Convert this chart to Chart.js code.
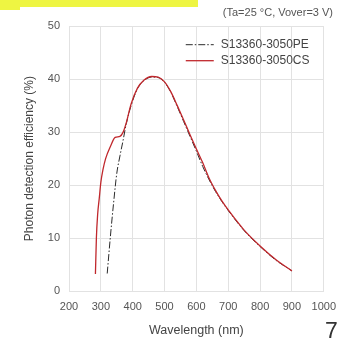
<!DOCTYPE html>
<html>
<head>
<meta charset="utf-8">
<script src="https://cdn.jsdelivr.net/npm/chart.js@4.4.1/dist/chart.umd.min.js"></script>
<style>
  html, body { margin: 0; padding: 0; background: #fff; }
  #wrap { position: relative; width: 345px; height: 338px; overflow: hidden; }
  #grafico { position: absolute; left: 0; top: 0; }
  .marca1 { position: absolute; left: 0; top: 0; width: 198px; height: 7px; background: #eef542; }
  .marca2 { position: absolute; left: 0; top: 0; width: 20px; height: 10px; background: #eef542; }
  #pagina { position: absolute; left: 325px; top: 318px; font: 23px "Liberation Sans", Arial, sans-serif; color: #333; }
</style>
</head>
<body>
<div id="wrap">
  <div class="marca1"></div>
  <div class="marca2"></div>
  <canvas id="grafico" width="345" height="338"></canvas>
  <div id="pagina">7</div>
</div>
<script>
// series names
var nomes = ["S13360-3050PE", "S13360-3050CS"];

// S13360-3050PE (dash-dot black)
var ondaPE = [320, 330, 340, 350, 360, 370, 380, 395, 415, 435, 460, 480, 500, 520, 540, 560, 580, 600, 620, 640, 660, 680, 700, 750, 800, 850, 900];
var pdePE  = [3.3, 10.3, 16.6, 22.2, 25.5, 28.5, 31.6, 35.0, 38.2, 39.7, 40.4, 40.3, 39.4, 37.5, 34.8, 32.0, 29.2, 26.4, 23.5, 21.0, 18.8, 16.9, 15.2, 11.4, 8.4, 5.8, 3.8];

// S13360-3050CS (red)
var ondaCS = [283, 286, 290, 295, 300, 307, 315, 330, 345, 360, 370, 380, 395, 415, 435, 460, 480, 500, 520, 540, 560, 580, 600, 620, 640, 660, 680, 700, 750, 800, 850, 900];
var pdeCS  = [3.2, 10.0, 14.5, 17.5, 20.5, 23.0, 25.0, 27.3, 29.0, 29.2, 30.0, 31.8, 35.3, 38.3, 39.8, 40.5, 40.4, 39.5, 37.6, 35.0, 32.3, 29.5, 26.8, 24.2, 21.3, 19.0, 17.0, 15.3, 11.5, 8.5, 5.9, 3.8];

// axes
var xMin = 200, xMax = 1000, xPasso = 100;
var yMin = 0, yMax = 50, yPasso = 10;

var notaTitulo = "(Ta=25 °C, Vover=3 V)";
var tituloX = "Wavelength (nm)";
var tituloY = "Photon detection efficiency (%)";

function pontos(xs, ys) {
    var p = [];
    for (var i = 0; i < xs.length; i++) {
        p.push({ x: xs[i], y: ys[i] });
    }
    return p;
}

var fonte = "'Liberation Sans', Arial, sans-serif";
var cinza = "#e2e2e2";

// legenda desenhada dentro da area do grafico (canto superior direito)
var legendaInterna = {
    id: 'legendaInterna',
    afterDraw: function (chart) {
        var ctx = chart.ctx;
        var area = chart.chartArea;
        var x0 = area.right - 138;
        var y0 = area.top + 18.5;
        ctx.save();
        ctx.font = "12px " + fonte;
        ctx.textBaseline = 'middle';
        chart.data.datasets.forEach(function (ds, i) {
            var y = y0 + i * 16;
            ctx.beginPath();
            ctx.strokeStyle = ds.borderColor;
            ctx.lineWidth = ds.borderWidth;
            ctx.setLineDash(ds.borderDash || []);
            ctx.moveTo(x0, y);
            ctx.lineTo(x0 + 28, y);
            ctx.stroke();
            ctx.setLineDash([]);
            ctx.fillStyle = "#444";
            ctx.fillText(ds.label, x0 + 35, y);
        });
        ctx.restore();
    }
};

var canvas = document.getElementById('grafico');
var context = canvas.getContext('2d');

var grafico = new Chart(context, {
    type: 'line',
    data: {
        datasets: [{
            label: nomes[0],
            data: pontos(ondaPE, pdePE),
            borderColor: "#2a2a2a",
            backgroundColor: "#2a2a2a",
            borderWidth: 1,
            borderDash: [7, 2, 1.5, 2],
            pointRadius: 0,
            cubicInterpolationMode: 'monotone',
            order: 1
        }, {
            label: nomes[1],
            data: pontos(ondaCS, pdeCS),
            borderColor: "#c0282d",
            backgroundColor: "#c0282d",
            borderWidth: 1.3,
            pointRadius: 0,
            cubicInterpolationMode: 'monotone',
            order: 0
        }]
    },
    plugins: [legendaInterna],
    options: {
        responsive: false,
        animation: false,
        layout: { padding: { left: 0, right: 12, top: 0, bottom: 0 } },
        plugins: {
            tooltip: { enabled: false },
            legend: { display: false },
            title: {
                display: true,
                text: notaTitulo,
                align: 'end',
                color: "#555",
                font: { family: fonte, size: 11, weight: 'normal' },
                padding: { top: 6, bottom: 7 }
            }
        },
        scales: {
            x: {
                type: 'linear',
                min: xMin,
                max: xMax,
                afterFit: function (scale) { scale.height = 47; },
                ticks: {
                    stepSize: xPasso,
                    color: "#555",
                    padding: 9,
                    maxRotation: 0,
                    font: { family: fonte, size: 11 },
                    callback: function (v) { return String(v); }
                },
                grid: { color: cinza, drawTicks: false },
                border: { color: cinza },
                title: {
                    display: true,
                    text: tituloX,
                    color: "#444",
                    font: { family: fonte, size: 12.5 },
                    padding: { top: 0, bottom: 0 }
                }
            },
            y: {
                min: yMin,
                max: yMax,
                afterFit: function (scale) { scale.width = 69; },
                ticks: {
                    stepSize: yPasso,
                    color: "#555",
                    padding: 9,
                    font: { family: fonte, size: 11 }
                },
                grid: { color: cinza, drawTicks: false },
                border: { color: cinza },
                title: {
                    display: true,
                    text: tituloY,
                    color: "#444",
                    font: { family: fonte, size: 12 },
                    padding: { top: 22, bottom: 0 }
                }
            }
        }
    }
});
</script>
</body>
</html>
